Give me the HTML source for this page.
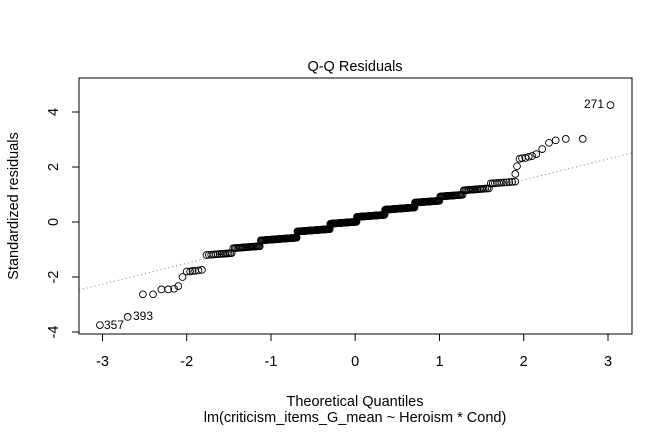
<!DOCTYPE html>
<html><head><meta charset="utf-8"><style>
body{margin:0;background:#fff}
svg{display:block;font-family:"Liberation Sans",Arial,sans-serif}
</style></head><body>
<svg id="s" width="672" height="432" viewBox="0 0 672 432">
<rect x="0" y="0" width="672" height="432" fill="#fff"/>
<text x="355" y="71" font-size="14.5" text-anchor="middle">Q-Q Residuals</text>
<rect x="79" y="78" width="553" height="256" fill="none" stroke="#000" stroke-width="1"/>
<line x1="79" y1="290" x2="632" y2="153" stroke="#777" stroke-width="1" stroke-dasharray="1,3"/>
<g id="pts" fill="none" stroke="#000" stroke-width="0.9"></g>
<g stroke="#000">
<line x1="102.5" y1="334" x2="608" y2="334"/>
<line x1="102.5" y1="334" x2="102.5" y2="341"/><line x1="186.7" y1="334" x2="186.7" y2="341"/>
<line x1="271" y1="334" x2="271" y2="341"/><line x1="355.2" y1="334" x2="355.2" y2="341"/>
<line x1="439.5" y1="334" x2="439.5" y2="341"/><line x1="523.7" y1="334" x2="523.7" y2="341"/>
<line x1="608" y1="334" x2="608" y2="341"/>
<line x1="79" y1="112" x2="79" y2="332"/>
<line x1="72" y1="112" x2="79" y2="112"/><line x1="72" y1="167" x2="79" y2="167"/>
<line x1="72" y1="222" x2="79" y2="222"/><line x1="72" y1="277" x2="79" y2="277"/>
<line x1="72" y1="332" x2="79" y2="332"/>
</g>
<g font-size="14.5" text-anchor="middle">
<text x="102.5" y="366">-3</text><text x="186.7" y="366">-2</text><text x="271" y="366">-1</text>
<text x="355.2" y="366">0</text><text x="439.5" y="366">1</text><text x="523.7" y="366">2</text><text x="608" y="366">3</text>
<text transform="translate(58,112) rotate(-90)">4</text>
<text transform="translate(58,167) rotate(-90)">2</text>
<text transform="translate(58,222) rotate(-90)">0</text>
<text transform="translate(58,277) rotate(-90)">-2</text>
<text transform="translate(58,332) rotate(-90)">-4</text>
<text x="355" y="406">Theoretical Quantiles</text>
<text x="355" y="422">lm(criticism_items_G_mean ~ Heroism * Cond)</text>
<text transform="translate(18,206) rotate(-90)">Standardized residuals</text>
</g>
<g font-size="12">
<text x="104" y="329">357</text>
<text x="133" y="320">393</text>
<text x="604" y="108" text-anchor="end">271</text>
</g>
</svg>
<script>
function X(q){return 355.2+84.25*q}
function Y(v){return 222-27.5*v}
function qn(p){var a=[-39.696830,220.946098,-275.928510,138.357751,-30.664798,2.506628],b=[-54.476098,161.585836,-155.698979,66.801311,-13.280681],c=[-0.007784894,-0.3223964,-2.400758,-2.549732,4.374664,2.938163],d=[0.007784695,0.3224671,2.445134,3.754408];var q,r;if(p<0.02425){q=Math.sqrt(-2*Math.log(p));return(((((c[0]*q+c[1])*q+c[2])*q+c[3])*q+c[4])*q+c[5])/((((d[0]*q+d[1])*q+d[2])*q+d[3])*q+1)}if(p>1-0.02425){q=Math.sqrt(-2*Math.log(1-p));return-(((((c[0]*q+c[1])*q+c[2])*q+c[3])*q+c[4])*q+c[5])/((((d[0]*q+d[1])*q+d[2])*q+d[3])*q+1)}q=p-0.5;r=q*q;return(((((a[0]*r+a[1])*r+a[2])*r+a[3])*r+a[4])*r+a[5])*q/(((((b[0]*r+b[1])*r+b[2])*r+b[3])*r+b[4])*r+1)}
var s='',n=400,g=document.getElementById('pts');
function C(q,v){s+='<circle cx="'+X(q).toFixed(1)+'" cy="'+Y(v).toFixed(1)+'" r="3.4"/>'}
var B=[-2.04,-1.78,-1.46,-1.13,-0.69,-0.30,0.02,0.35,0.71,1.0,1.28,1.6,1.92];
for(var i=1;i<=n;i++){var q=qn((i-0.5)/n);if(q<-1.78||q>1.9)continue;
var k=0;while(k<B.length-1&&q>B[k+1])k++;var c=(B[k]+B[k+1])/2;
var v=0.77*c+0.3*0.77*(q-c)+0.08;C(q,v)}
[[-3.03,-3.75],[-2.7,-3.45],[-2.52,-2.63],[-2.4,-2.63],[-2.3,-2.45],[-2.22,-2.45],[-2.15,-2.43],[-2.1,-2.33],[-2.05,-2.0],[-2.0,-1.8],[-1.96,-1.8],[-1.93,-1.78],[-1.9,-1.78],[-1.86,-1.76],[-1.82,-1.74],
[3.03,4.25],[2.7,3.02],[2.5,3.02],[2.38,2.97],[2.3,2.88],[2.22,2.65],[2.15,2.47],[2.1,2.4],[2.06,2.37],[2.02,2.33],[1.98,2.32],[1.95,2.3],[1.92,2.03],[1.9,1.75]].forEach(function(p){C(p[0],p[1])});
g.innerHTML=s;
</script>
</body></html>
